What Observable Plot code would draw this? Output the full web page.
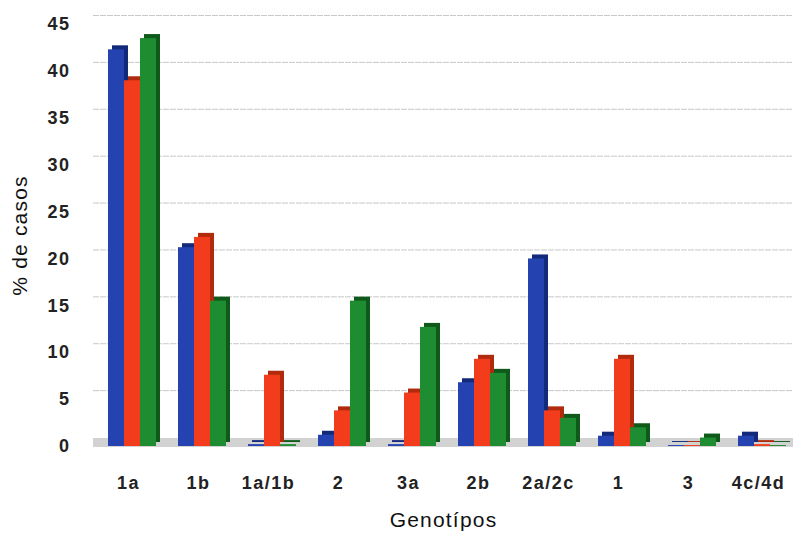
<!DOCTYPE html>
<html>
<head>
<meta charset="utf-8">
<script src="https://cdn.jsdelivr.net/npm/d3@7"></script>
<script src="https://cdn.jsdelivr.net/npm/@observablehq/plot@0.6"></script>
<style>
  html, body { margin: 0; padding: 0; background: #fff; }
  #chart { width: 808px; height: 538px; }
  #chart g[aria-label="y-axis label"] text,
  #chart g[aria-label="fx-axis label"] text {
    font-size: 21px;
    font-weight: normal;
    letter-spacing: 1.2px;
    fill: #111;
  }
  #chart g[aria-label="y-axis tick label"] text,
  #chart g[aria-label="fx-axis tick label"] text {
    font-size: 18px;
    letter-spacing: 1.5px;
  }
</style>
</head>
<body>
<div id="chart"></div>
<script>
// Genotype categories along the x axis
const genotipos = ["1a", "1b", "1a/1b", "2", "3a", "2b", "2a/2c", "1", "3", "4c/4d"];
// Series names (blue, red, green)
const series = ["Serie 1", "Serie 2", "Serie 3"];
// Percentage of cases per genotype for each series
const serie1 = [42.3, 21.2, 0.2, 1.2, 0.2, 6.8, 20.0, 1.1, 0.1, 1.1];
const serie2 = [39.0, 22.3, 7.6, 3.8, 5.7, 9.3, 3.8, 9.3, 0.1, 0.2];
const serie3 = [43.5, 15.5, 0.2, 15.5, 12.7, 7.8, 3.0, 2.0, 0.9, 0.1];
// Y axis ticks
const yTicks = [0, 5, 10, 15, 20, 25, 30, 35, 40, 45];

const colors = ["#2443b0", "#f23c1c", "#1e8c30"];
const sideColors = ["#132a7a", "#b02a0e", "#0f5a1b"];

const values = [serie1, serie2, serie3];
const rows = [];
genotipos.forEach((g, i) => {
  series.forEach((s, j) => rows.push({genotipo: g, serie: s, valor: values[j][i]}));
});

const chart = Plot.plot({
  width: 808,
  height: 538,
  marginLeft: 93,
  marginRight: 15,
  marginTop: 24,
  marginBottom: 92,
  style: {
    fontFamily: "'Liberation Sans', Arial, sans-serif",
    fontSize: "16px",
    fontWeight: "bold",
    color: "#222",
    background: "#fff"
  },
  fx: {
    domain: genotipos,
    padding: 0,
    label: "Genotípos",
    labelAnchor: "center",
    labelArrow: "none",
    labelOffset: 80,
    tickSize: 0,
    tickPadding: 30
  },
  x: {
    domain: series,
    axis: null,
    paddingInner: 0,
    paddingOuter: 0.64,
    align: 0.67
  },
  y: {
    domain: [0, 45],
    ticks: yTicks,
    label: "% de casos",
    labelAnchor: "center",
    labelArrow: "none",
    labelOffset: 81,
    tickSize: 0,
    tickPadding: 23
  },
  color: {domain: series, range: colors},
  marks: [
    // back-wall gridlines
    Plot.ruleY(yTicks.slice(1), {stroke: "#c8c8c8", strokeWidth: 1, dy: -9, strokeDasharray: "6,1"}),
    // floor
    Plot.ruleY([0], {stroke: "#d2d2d2", strokeWidth: 9, dy: -4}),
    // extruded side/top of each bar
    Plot.barY(rows, {
      fx: "genotipo", x: "serie", y: "valor",
      fill: d => sideColors[series.indexOf(d.serie)],
      dx: 4, dy: -4
    }),
    // front faces
    Plot.barY(rows, {
      fx: "genotipo", x: "serie", y: "valor",
      fill: "serie"
    })
  ]
});

document.getElementById("chart").appendChild(chart);
</script>
</body>
</html>
